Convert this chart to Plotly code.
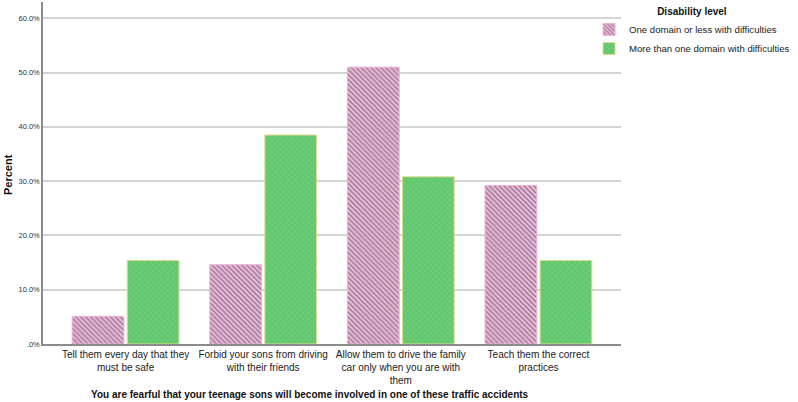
import plotly.graph_objects as go

categories = [
    "Tell them every day that they<br>must be safe",
    "Forbid your sons from driving<br>with their friends",
    "Allow them to drive the family<br>car only when you are with<br>them",
    "Teach them the correct<br>practices",
]
series_names = ["One domain or less with difficulties", "More than one domain with difficulties"]
one_or_less = [5.1, 14.6, 51.0, 29.2]
more_than_one = [15.4, 38.5, 30.8, 15.4]
y_tickvals = [0, 10, 20, 30, 40, 50, 60]
y_ticktext = [".0%", "10.0%", "20.0%", "30.0%", "40.0%", "50.0%", "60.0%"]

FONT = "Arial, Liberation Sans, sans-serif"
W, H = 798, 402
L, R, T, B = 43, 177, 2, 58
PW = W - L - R
PH = H - T - B

fig = go.Figure()
fig.add_trace(go.Bar(
    x=categories, y=one_or_less, name=series_names[0],
    marker=dict(
        color="#eeb9da",
        line=dict(color="#eeb0d6", width=1),
        pattern=dict(shape="\\", fgcolor="#553654", bgcolor="#f3c3e0", size=3.5, solidity=0.5),
    ),
))
fig.add_trace(go.Bar(
    x=categories, y=more_than_one, name=series_names[1],
    marker=dict(
        color="#62c973",
        line=dict(color="#e2dc8c", width=1),
        pattern=dict(shape="x", fgcolor="#b6d56c", bgcolor="#5cc873", size=4, solidity=0.3),
    ),
))

fig.update_layout(
    width=W, height=H,
    margin=dict(l=L, r=R, t=T, b=B, autoexpand=False),
    paper_bgcolor="white", plot_bgcolor="white",
    barmode="group", bargap=0.2, bargroupgap=0.06,
    font=dict(family=FONT, size=10, color="#222"),
    showlegend=True,
    legend=dict(
        x=(589 - L) / PW, xanchor="left", y=1.0, yanchor="top",
        title=dict(text="<b>Disability level</b>", side="top center", font=dict(size=10, color="#111")),
        font=dict(size=9.6, color="#222"),
        itemwidth=30, tracegroupgap=0,
        bgcolor="rgba(255,255,255,0)",
    ),
    xaxis=dict(
        range=[-0.6, 3.6], automargin=False, tickangle=0,
        showline=True, linecolor="#8c8c8c", linewidth=1.5,
        showgrid=False, ticks="", tickfont=dict(size=10, color="#222"),
    ),
    yaxis=dict(
        range=[0, 63], automargin=False,
        tickvals=y_tickvals, ticktext=y_ticktext,
        showline=True, linecolor="#8c8c8c", linewidth=1.5,
        showgrid=True, gridcolor="#d4d4d4", gridwidth=1.5,
        ticks="", tickfont=dict(size=7.5, color="#333"),
        zeroline=False,
    ),
    annotations=[
        dict(
            text="<b>You are fearful that your teenage sons will become involved in one of these traffic accidents</b>",
            xref="paper", yref="paper",
            x=(310 - L) / PW, y=-(394 - (H - B)) / PH,
            xanchor="center", yanchor="middle", showarrow=False,
            font=dict(size=10, color="#111"),
        ),
        dict(
            text="<b>Percent</b>", textangle=-90,
            xref="paper", yref="paper",
            x=-(L - 8) / PW, y=(344 - 175) / PH,
            xanchor="center", yanchor="middle", showarrow=False,
            font=dict(size=11, color="#111"),
        ),
    ],
)

fig.write_html("out.html")
